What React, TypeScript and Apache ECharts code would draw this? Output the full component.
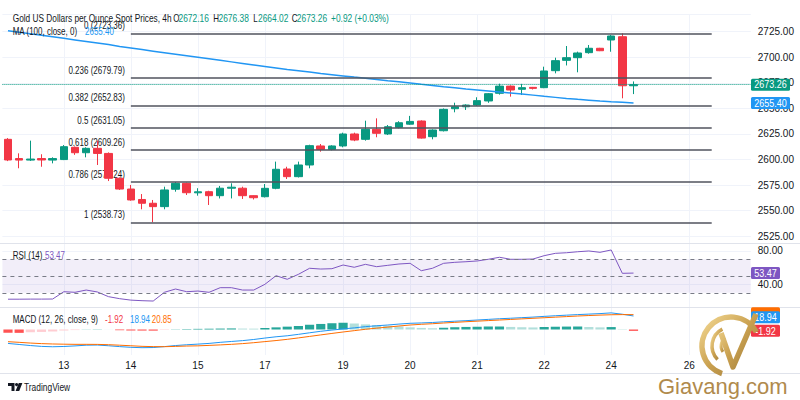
import React, { useEffect, useRef } from 'react';
import * as echarts from 'echarts';

const FONT = "'Liberation Sans Narrow', 'Arial Narrow', 'Liberation Sans', sans-serif";
const NARROW = 0.8;

// ---- time axis ----
const slotCount = 67;
const dayTickIndex = [5, 11, 17, 23, 30, 36, 42, 48, 54, 61];
const dayTickLabel = ['13', '14', '15', '17', '19', '20', '21', '22', '24', '26'];

// ---- 4h candles (XAU/USD) ----
const opens = [2619.8, 2601.0, 2599.5, 2601.0, 2599.5, 2600.0, 2612.0, 2606.7, 2611.0, 2606.0, 2581.7, 2571.2, 2561.0, 2557.3, 2554.0, 2571.0, 2576.8, 2567.5, 2568.6, 2564.7, 2572.0, 2572.0, 2564.7, 2563.7, 2571.9, 2590.8, 2583.3, 2594.7, 2613.3, 2610.0, 2613.3, 2625.0, 2619.8, 2629.6, 2625.0, 2631.5, 2634.6, 2637.7, 2622.4, 2628.2, 2649.7, 2651.6, 2653.3, 2657.3, 2664.8, 2671.8, 2668.7, 2670.6, 2670.3, 2686.9, 2697.0, 2699.6, 2704.5, 2708.8, 2716.9, 2720.1, 2672.16];
const closes = [2599.6, 2599.5, 2600.5, 2599.6, 2601.0, 2612.6, 2606.7, 2611.0, 2606.0, 2581.7, 2571.2, 2560.5, 2557.3, 2554.0, 2570.3, 2576.8, 2567.6, 2568.5, 2564.7, 2572.0, 2573.0, 2564.7, 2562.7, 2571.9, 2590.5, 2583.3, 2594.7, 2613.6, 2610.0, 2613.3, 2625.0, 2619.1, 2629.6, 2625.7, 2632.1, 2636.0, 2637.3, 2621.0, 2628.9, 2649.1, 2651.6, 2653.3, 2657.6, 2664.4, 2671.8, 2668.0, 2670.3, 2669.6, 2686.6, 2696.7, 2699.6, 2704.2, 2708.8, 2706.4, 2720.8, 2672.16, 2673.26];
const highs = [2621.0, 2606.1, 2618.5, 2605.2, 2602.2, 2614.2, 2612.8, 2612.0, 2618.5, 2607.0, 2582.5, 2575.2, 2566.3, 2560.5, 2573.5, 2578.0, 2577.5, 2572.0, 2569.5, 2574.2, 2576.8, 2573.5, 2565.0, 2576.1, 2598.0, 2593.0, 2598.0, 2614.5, 2615.2, 2614.0, 2626.3, 2626.3, 2638.0, 2640.3, 2633.8, 2637.5, 2642.7, 2638.3, 2629.5, 2650.0, 2655.6, 2654.0, 2660.9, 2665.0, 2674.2, 2672.5, 2674.0, 2671.0, 2690.8, 2699.6, 2711.0, 2705.5, 2712.0, 2709.2, 2721.8, 2723.36, 2676.38];
const lows = [2598.5, 2591.5, 2598.6, 2593.0, 2596.3, 2599.5, 2604.6, 2602.2, 2594.7, 2579.0, 2570.3, 2559.8, 2551.4, 2538.73, 2551.4, 2568.6, 2565.4, 2564.7, 2555.6, 2562.0, 2562.0, 2561.5, 2561.0, 2563.0, 2571.0, 2581.0, 2582.5, 2591.5, 2607.7, 2609.0, 2612.0, 2618.0, 2618.5, 2621.8, 2624.0, 2630.5, 2634.0, 2620.5, 2619.8, 2627.5, 2646.2, 2648.5, 2652.5, 2655.5, 2663.5, 2661.5, 2663.1, 2668.5, 2669.8, 2684.3, 2692.0, 2685.3, 2703.5, 2706.0, 2705.4, 2659.9, 2664.02];

// ---- MA (100) ----
const ma100 = [2726, 2724.5, 2723, 2721.5, 2720, 2718.5, 2717, 2715.5, 2714, 2712.5, 2710.5, 2709, 2707.5, 2706, 2704.5, 2703, 2701.5, 2700, 2698.5, 2697, 2695.5, 2694, 2692.5, 2691, 2689.5, 2688, 2686.8, 2685.5, 2684.2, 2683, 2681.8, 2680.6, 2679.5, 2678.3, 2677, 2676, 2674.8, 2673.6, 2672.5, 2671.3, 2670.2, 2669, 2668, 2667, 2666, 2665, 2664, 2663, 2661.8, 2660.8, 2659.8, 2658.9, 2658.1, 2657.3, 2656.6, 2656.0, 2655.4];

// ---- RSI (14) ----
const rsi14 = [22.4, 22.4, 22.5, 22.5, 22.6, 31.3, 30.6, 33.3, 31.0, 25.4, 23.0, 21.3, 20.6, 20.2, 30.6, 34.5, 31.3, 32.1, 30.6, 36.1, 36.1, 33.3, 33.3, 40.1, 50.4, 46.1, 52.0, 59.2, 58.3, 58.7, 63.1, 60.4, 63.9, 61.1, 62.7, 64.3, 65.1, 56.3, 59.2, 65.1, 66.3, 67.0, 67.9, 69.9, 72.3, 69.9, 69.9, 70.2, 74.2, 77.0, 77.7, 78.9, 79.8, 78.2, 81.0, 53.2, 53.47];
const rsiLevels = [70, 50, 30];

// ---- MACD (12, 26, close, 9) ----
const macdLine = [-19.5, -21, -22.5, -23.7, -24.2, -23.8, -23, -22, -21.8, -22.8, -24, -25, -25.5, -25.3, -24, -22.5, -21.4, -20.5, -19.5, -18, -16.8, -15.6, -14, -12, -10.2, -8.8, -6.8, -4.6, -2.5, -0.8, 0.8, 2.3, 4, 5.2, 6.3, 7.6, 8.7, 9.2, 9.8, 10.8, 11.6, 12.4, 13.3, 14.2, 15.1, 15.8, 16.6, 17.4, 18.4, 19.3, 20.1, 20.9, 21.6, 22.3, 23.3, 21.4, 18.94];
const signalLine = [-17.1, -18, -19, -19.8, -20.3, -20.6, -20.8, -20.8, -20.9, -21.3, -22, -22.8, -23.6, -24, -24.1, -23.7, -23.2, -22.9, -22.3, -21.6, -20.8, -19.8, -18.5, -17, -15.5, -13.8, -11.8, -9.7, -7.6, -5.5, -3.5, -1.6, 0.3, 1.9, 3.4, 4.9, 6.3, 7.3, 8.1, 9.1, 10.0, 10.9, 11.7, 12.5, 13.3, 14.1, 14.9, 15.7, 16.5, 17.3, 18.1, 18.9, 19.6, 20.2, 20.7, 20.9, 20.85];
const macdHist = [-4.4, -4.7, -3.9, -3.4, -2.8, -1.5, -0.8, 0.2, 0.3, 0.1, -1.0, -1.3, -1.5, -1.6, -0.6, 0.3, 0.6, 0.9, 1.1, 1.3, 1.5, 1.3, 1.2, 2.0, 3.0, 4.0, 5.0, 6.5, 7.8, 8.8, 9.4, 8.5, 7.2, 6.2, 5.3, 4.2, 3.0, 2.2, 1.6, 2.5, 3.2, 3.6, 3.9, 4.1, 4.2, 3.6, 3.2, 2.9, 3.5, 3.9, 4.1, 4.2, 3.5, 3.0, 3.4, 0.5, -1.92];

// ---- Fibonacci retracement ----
const fibRatios = ['0', '0.236', '0.382', '0.5', '0.618', '0.786', '1'];
const fibPrices = [2723.36, 2679.79, 2652.83, 2631.05, 2609.26, 2578.24, 2538.73];
const fibStartIndex = 11;
const fibEndIndex = 63;

// ---- last values ----
const lastOpen = 2672.16, lastHigh = 2676.38, lastLow = 2664.02, lastClose = 2673.26;
const lastChange = '+0.92 (+0.03%)';
const lastMA = 2655.40, lastRSI = 53.47, lastMACD = 18.94, lastSignal = 20.85, lastHist = -1.92;

const UP = '#089981';
const DOWN = '#f23645';
const TXT = '#131722';
const BLUE = '#2196f3';
const PURPLE = '#7e57c2';
const ORANGE = '#ff6d00';

const categories = Array.from({ length: slotCount }, (_, i) => {
  const k = dayTickIndex.indexOf(i);
  return k >= 0 ? dayTickLabel[k] : '#' + i;
});
const isDayTick = (i: number) => dayTickIndex.indexOf(i) >= 0;

const histColor = (i: number) => {
  const v = macdHist[i];
  const p = i > 0 ? macdHist[i - 1] : v;
  if (v >= 0) return v >= p ? '#26a69a' : '#b2dfdb';
  return v <= p ? '#ff5252' : '#ffcdd2';
};

const gridL = 2.4;
const gridR = 49.2;

function buildOption(): any {
  const xAxes = [0, 1, 2].map((gi) => ({
    type: 'category',
    gridIndex: gi,
    data: categories,
    boundaryGap: true,
    axisLine: { show: false },
    axisTick: { show: false },
    axisLabel:
      gi === 2
        ? {
            show: true,
            interval: (i: number) => isDayTick(i),
            formatter: (v: string) => (v.charAt(0) === '#' ? '' : v),
            color: TXT,
            fontSize: 10,
            fontFamily: FONT,
            margin: 5,
          }
        : { show: false },
    splitLine: {
      show: true,
      interval: (i: number) => isDayTick(i),
      alignWithLabel: true,
      lineStyle: { color: '#f0f3fa', width: 1 },
    },
  }));

  return {
    animation: false,
    backgroundColor: '#ffffff',
    textStyle: { fontFamily: FONT },
    grid: [
      { left: gridL, right: gridR, top: 14, height: 229 },
      { left: gridL, right: gridR, top: 243, height: 64 },
      { left: gridL, right: gridR, top: 307, height: 48 },
    ],
    xAxis: xAxes,
    yAxis: [
      {
        type: 'value',
        gridIndex: 0,
        position: 'right',
        min: 2518.45,
        max: 2742.3,
        minInterval: 25,
        maxInterval: 25,
        splitNumber: 9,
        axisLine: { show: false },
        axisTick: { show: false },
        axisLabel: {
          color: TXT,
          fontSize: 10,
          fontFamily: FONT,
          margin: 7,
          showMinLabel: false,
          showMaxLabel: false,
          formatter: (v: number) => v.toFixed(2),
        },
        splitLine: { show: true, lineStyle: { color: '#f0f3fa' } },
      },
      {
        type: 'value',
        gridIndex: 1,
        position: 'right',
        min: 13.1,
        max: 89.3,
        minInterval: 40,
        maxInterval: 40,
        axisLine: { show: false },
        axisTick: { show: false },
        axisLabel: {
          color: TXT,
          fontSize: 10,
          fontFamily: FONT,
          margin: 7,
          showMinLabel: false,
          showMaxLabel: false,
          formatter: (v: number) => v.toFixed(2),
        },
        splitLine: { show: true, lineStyle: { color: '#f0f3fa' } },
      },
      {
        type: 'value',
        gridIndex: 2,
        position: 'right',
        min: -35.76,
        max: 31.56,
        axisLine: { show: false },
        axisTick: { show: false },
        axisLabel: { show: false },
        splitLine: { show: false },
      },
    ],
    series: [
      {
        name: 'fib',
        type: 'line',
        xAxisIndex: 0,
        yAxisIndex: 0,
        data: closes,
        symbol: 'none',
        silent: true,
        z: 1,
        lineStyle: { opacity: 0 },
        markLine: {
          silent: true,
          symbol: ['none', 'none'],
          animation: false,
          lineStyle: { color: '#50535e', width: 1.6, type: 'solid' },
          label: { show: false },
          data: fibPrices.map((p) => [{ coord: [fibStartIndex, p] }, { coord: [fibEndIndex, p] }]),
        },
      },
      {
        name: 'XAUUSD',
        type: 'candlestick',
        xAxisIndex: 0,
        yAxisIndex: 0,
        z: 3,
        barWidth: 8,
        data: opens.map((o, i) => [o, closes[i], lows[i], highs[i]]),
        itemStyle: {
          color: UP,
          color0: DOWN,
          borderColor: UP,
          borderColor0: DOWN,
          borderWidth: 1,
        },
        markLine: {
          silent: true,
          symbol: ['none', 'none'],
          animation: false,
          label: { show: false },
          lineStyle: { color: UP, type: 'dotted', width: 1 },
          data: [{ yAxis: lastClose }],
        },
      },
      {
        name: 'MA100',
        type: 'line',
        xAxisIndex: 0,
        yAxisIndex: 0,
        z: 4,
        data: ma100,
        symbol: 'none',
        lineStyle: { color: BLUE, width: 1.5 },
      },
      {
        name: 'RSI',
        type: 'line',
        xAxisIndex: 1,
        yAxisIndex: 1,
        z: 3,
        data: rsi14,
        symbol: 'none',
        lineStyle: { color: PURPLE, width: 1 },
        markArea: {
          silent: true,
          itemStyle: { color: 'rgba(126,87,194,0.1)' },
          data: [[{ yAxis: rsiLevels[0] }, { yAxis: rsiLevels[2] }]],
        },
        markLine: {
          silent: true,
          symbol: ['none', 'none'],
          animation: false,
          label: { show: false },
          lineStyle: { color: '#787b86', type: [4, 4], width: 1 },
          data: rsiLevels.map((v) => ({ yAxis: v })),
        },
      },
      {
        name: 'Histogram',
        type: 'bar',
        xAxisIndex: 2,
        yAxisIndex: 2,
        barWidth: '82%',
        z: 2,
        data: macdHist.map((v, i) => ({ value: v, itemStyle: { color: histColor(i) } })),
      },
      {
        name: 'MACD',
        type: 'line',
        xAxisIndex: 2,
        yAxisIndex: 2,
        z: 3,
        data: macdLine,
        symbol: 'none',
        lineStyle: { color: BLUE, width: 1 },
      },
      {
        name: 'Signal',
        type: 'line',
        xAxisIndex: 2,
        yAxisIndex: 2,
        z: 3,
        data: signalLine,
        symbol: 'none',
        lineStyle: { color: ORANGE, width: 1 },
      },
    ],
  };
}

function txt(x: number, y: number, text: string, fill: string, opts: any = {}) {
  const { size = 10, align = 'left', z = 50, scale = NARROW, style = {} } = opts;
  return {
    type: 'text',
    z,
    silent: true,
    x,
    y,
    scaleX: scale,
    style: {
      x: 0,
      y: 0,
      text,
      fill,
      fontSize: size,
      fontFamily: FONT,
      align,
      textAlign: align,
      textVerticalAlign: 'middle',
      verticalAlign: 'middle',
      ...style,
    },
  };
}

function badge(y: number, text: string, color: string, width: number) {
  const children: any[] = [
    {
      type: 'rect',
      z: 60,
      shape: { x: 751, y: y - 6, width, height: 12, r: 1.5 },
      style: { fill: color },
    },
  ];
  if (text) {
    children.push({
      type: 'text',
      z: 61,
      x: 751 + width / 2,
      y,
      scaleX: 0.9,
      style: {
        x: 0,
        y: 0,
        text,
        fill: '#ffffff',
        fontSize: 10,
        fontFamily: FONT,
        textAlign: 'center',
        align: 'center',
        textVerticalAlign: 'middle',
        verticalAlign: 'middle',
      },
    });
  }
  return { type: 'group', z: 60, children };
}

function hline(y: number, x1: number, x2: number, color: string) {
  return {
    type: 'line',
    z: 40,
    silent: true,
    shape: { x1, y1: y, x2, y2: y },
    style: { stroke: color, lineWidth: 1 },
  };
}

function buildGraphics(chart: any) {
  const py = (axis: number, v: number) => chart.convertToPixel({ yAxisIndex: axis }, v) as number;
  const px = (i: number) => chart.convertToPixel({ xAxisIndex: 0 }, categories[i]) as number;
  const gold = new echarts.graphic.LinearGradient(0, 0, 1, 1, [
    { offset: 0, color: '#f3d892' },
    { offset: 0.5, color: '#c9a04f' },
    { offset: 1, color: '#9c7a3c' },
  ]);
  const fibLabelRight = px(fibStartIndex) - 6;
  const g: any[] = [
    // pane separators
    hline(243.5, 0, 800, '#e0e3eb'),
    hline(307.5, 0, 800, '#e0e3eb'),
    hline(373.5, 0, 800, '#e0e3eb'),
    // fib labels (below candles)
    ...fibPrices.map((p, k) =>
      txt(fibLabelRight, py(0, p) - 7.5, fibRatios[k] + ' (' + p.toFixed(2) + ')', TXT, { align: 'right', z: 1 })
    ),
    // header legend
    txt(12.7, 19, 'Gold US Dollars per Ounce Spot Prices, 4h', TXT, { scale: 0.83 }),
    txt(173.3, 19, 'O', TXT),
    txt(178.5, 19, lastOpen.toFixed(2), UP, { scale: 0.84 }),
    txt(213.3, 19, 'H', TXT),
    txt(218.5, 19, lastHigh.toFixed(2), UP, { scale: 0.84 }),
    txt(253.3, 19, 'L', TXT),
    txt(258.0, 19, lastLow.toFixed(2), UP, { scale: 0.84 }),
    txt(291.7, 19, 'C', TXT),
    txt(296.8, 19, lastClose.toFixed(2), UP, { scale: 0.84 }),
    txt(331, 19, lastChange, UP, { scale: 0.84 }),
    txt(12.7, 32, 'MA (100, close, 0)', TXT),
    txt(85, 32, lastMA.toFixed(2), BLUE),
    txt(12.7, 256, 'RSI (14)', TXT),
    txt(45, 256, lastRSI.toFixed(2), PURPLE),
    txt(12.7, 320, 'MACD (12, 26, close, 9)', TXT),
    txt(105, 320, lastHist.toFixed(2), DOWN),
    txt(130, 320, lastMACD.toFixed(2), BLUE),
    txt(151.7, 320, lastSignal.toFixed(2), ORANGE),
    // price-scale badges
    badge(py(0, lastClose), lastClose.toFixed(2), UP, 39),
    badge(py(0, lastMA), lastMA.toFixed(2), BLUE, 39),
    badge(py(1, lastRSI), lastRSI.toFixed(2), PURPLE, 29),
    badge(py(2, lastSignal) - 1.5, '', ORANGE, 29),
    badge(py(2, lastMACD) + 1.3, lastMACD.toFixed(2), BLUE, 29),
    badge(py(2, lastHist), lastHist.toFixed(2), DOWN, 29),
    // TradingView mark
    {
      type: 'polygon',
      z: 50,
      silent: true,
      shape: { points: [[8, 383], [14.5, 383], [14.5, 391], [11.5, 391], [11.5, 386], [8, 386]] },
      style: { fill: TXT },
    },
    { type: 'circle', z: 50, silent: true, shape: { cx: 16.6, cy: 384.6, r: 1.6 }, style: { fill: TXT } },
    {
      type: 'polygon',
      z: 50,
      silent: true,
      shape: { points: [[18.8, 383], [22.4, 383], [19.2, 391], [15.6, 391]] },
      style: { fill: TXT },
    },
    txt(24, 387.5, 'TradingView', TXT, { size: 10.5 }),
    // Giavang watermark
    {
      type: 'arc',
      z: 70,
      silent: true,
      shape: { cx: 731, cy: 346, r: 29, startAngle: Math.PI * 0.6, endAngle: Math.PI * 1.84 },
      style: { stroke: gold, lineWidth: 5.5, fill: 'none' },
    },
    {
      type: 'arc',
      z: 70,
      silent: true,
      shape: { cx: 731, cy: 346, r: 19, startAngle: Math.PI * 0.75, endAngle: Math.PI * 1.35 },
      style: { stroke: gold, lineWidth: 3.5, fill: 'none' },
    },
    {
      type: 'arc',
      z: 70,
      silent: true,
      shape: { cx: 731, cy: 346, r: 10, startAngle: Math.PI * 0.8, endAngle: Math.PI * 1.3 },
      style: { stroke: gold, lineWidth: 3, fill: 'none' },
    },
    {
      type: 'polyline',
      z: 71,
      silent: true,
      shape: { points: [[721, 333], [733, 367], [756, 314]] },
      style: { stroke: gold, lineWidth: 5.5, fill: 'none', lineJoin: 'round' },
    },
    txt(658, 386, 'Giavang.com', '#b08a4c', {
      size: 22,
      scale: 1,
      z: 70,
      style: { fontFamily: "'Liberation Sans', sans-serif", fontWeight: 300 },
    }),
  ];
  return g;
}

export default function App() {
  const ref = useRef<HTMLDivElement>(null);
  useEffect(() => {
    if (!ref.current) return;
    const chart = echarts.init(ref.current, null, { renderer: 'svg' });
    chart.setOption(buildOption());
    chart.setOption({ graphic: buildGraphics(chart) });
    return () => {
      chart.dispose();
    };
  }, []);
  return (
    <div
      ref={ref}
      style={{ position: 'fixed', left: 0, top: 0, width: 800, height: 400, background: '#ffffff' }}
    />
  );
}
